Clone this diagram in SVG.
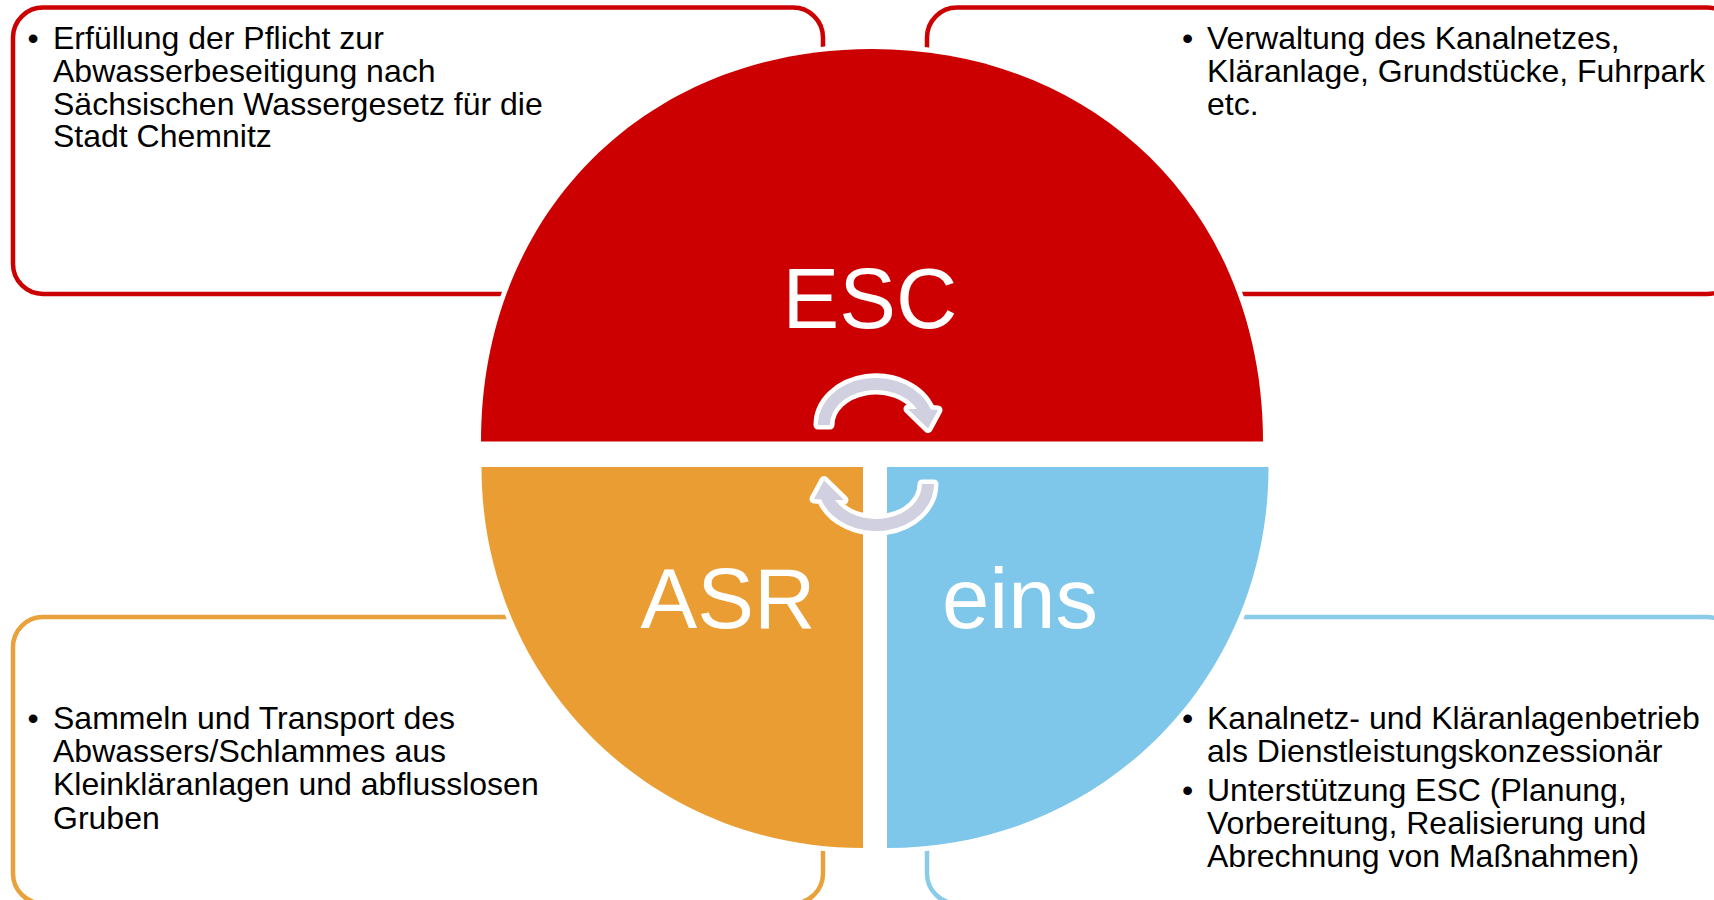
<svg xmlns="http://www.w3.org/2000/svg" width="1714" height="900" viewBox="0 0 1714 900">
<style>
.box{fill:#fff;stroke-width:4.5}
.txt{font-family:"Liberation Sans",Arial,sans-serif;font-size:32px;fill:#000}
.bul{text-anchor:middle}
.piece{stroke:#fff;stroke-width:10;paint-order:stroke;stroke-linejoin:round}
.big{font-family:"Liberation Sans",Arial,sans-serif;font-size:85px;fill:#fff;text-anchor:middle}
.arr{fill:#D0D0E0;stroke:#fff;stroke-width:9;paint-order:stroke;stroke-linejoin:round}
</style>
<rect width="1714" height="900" fill="#fff"/>
<g id="box-esc-left">
<rect class="box" x="13" y="7.5" width="810" height="286.5" rx="30" stroke="#CC0000"/>
<text class="txt bul" x="33" y="49">•</text>
<text class="txt" x="53" y="49">Erfüllung der Pflicht zur</text>
<text class="txt" x="53" y="81.8">Abwasserbeseitigung nach</text>
<text class="txt" x="53" y="114.6">Sächsischen Wassergesetz für die</text>
<text class="txt" x="53" y="147.4">Stadt Chemnitz</text>
</g>
<g id="box-esc-right">
<rect class="box" x="927" y="7.5" width="810" height="286.5" rx="30" stroke="#CC0000"/>
<text class="txt bul" x="1187.5" y="49">•</text>
<text class="txt" x="1207" y="49">Verwaltung des Kanalnetzes,</text>
<text class="txt" x="1207" y="81.8">Kläranlage, Grundstücke, Fuhrpark</text>
<text class="txt" x="1207" y="114.6">etc.</text>
</g>
<g id="box-asr">
<rect class="box" x="13" y="617" width="810" height="286.5" rx="30" stroke="#E9A23B"/>
<text class="txt bul" x="33" y="729">•</text>
<text class="txt" x="53" y="729">Sammeln und Transport des</text>
<text class="txt" x="53" y="762.2">Abwassers/Schlammes aus</text>
<text class="txt" x="53" y="795.4">Kleinkläranlagen und abflusslosen</text>
<text class="txt" x="53" y="828.6">Gruben</text>
</g>
<g id="box-eins">
<rect class="box" x="927" y="617" width="810" height="286.5" rx="30" stroke="#8BCBEA"/>
<text class="txt bul" x="1187.5" y="729">•</text>
<text class="txt" x="1207" y="729">Kanalnetz- und Kläranlagenbetrieb</text>
<text class="txt" x="1207" y="762.2">als Dienstleistungskonzessionär</text>
<text class="txt bul" x="1187.5" y="801">•</text>
<text class="txt" x="1207" y="801">Unterstützung ESC (Planung,</text>
<text class="txt" x="1207" y="834.2">Vorbereitung, Realisierung und</text>
<text class="txt" x="1207" y="867.4">Abrechnung von Maßnahmen)</text>
</g>
<g id="esc">
<path class="piece" fill="#CC0000" d="M481,441.5 C481,213.8 645.2,49 872,49 C1098.8,49 1263,213.8 1263,441.5 Z"/>
<text class="big" x="870" y="327.5">ESC</text>
</g>
<g id="asr">
<path class="piece" fill="#EA9D33" d="M863,467 L481.5,467 C481.5,680.4 649.4,848 863,848 Z"/>
<text class="big" x="728" y="627.5">ASR</text>
</g>
<g id="eins">
<path class="piece" fill="#7EC6EA" d="M887,467 L1268.5,467 C1268.5,680.4 1100.6,848 887,848 Z"/>
<text class="big" x="1020" y="627.5">eins</text>
</g>
<g id="connectors">
<path class="arr" d="M818,425 A58,47 0 0 1 930.8,409.5 L938,410 L928,428.5 L908,409 L916.9,409 A46,35 0 0 0 830,425 Z"/>
<path class="arr" transform="rotate(180 876 454.5)" d="M818,425 A58,47 0 0 1 930.8,409.5 L938,410 L928,428.5 L908,409 L916.9,409 A46,35 0 0 0 830,425 Z"/>
</g>
</svg>
